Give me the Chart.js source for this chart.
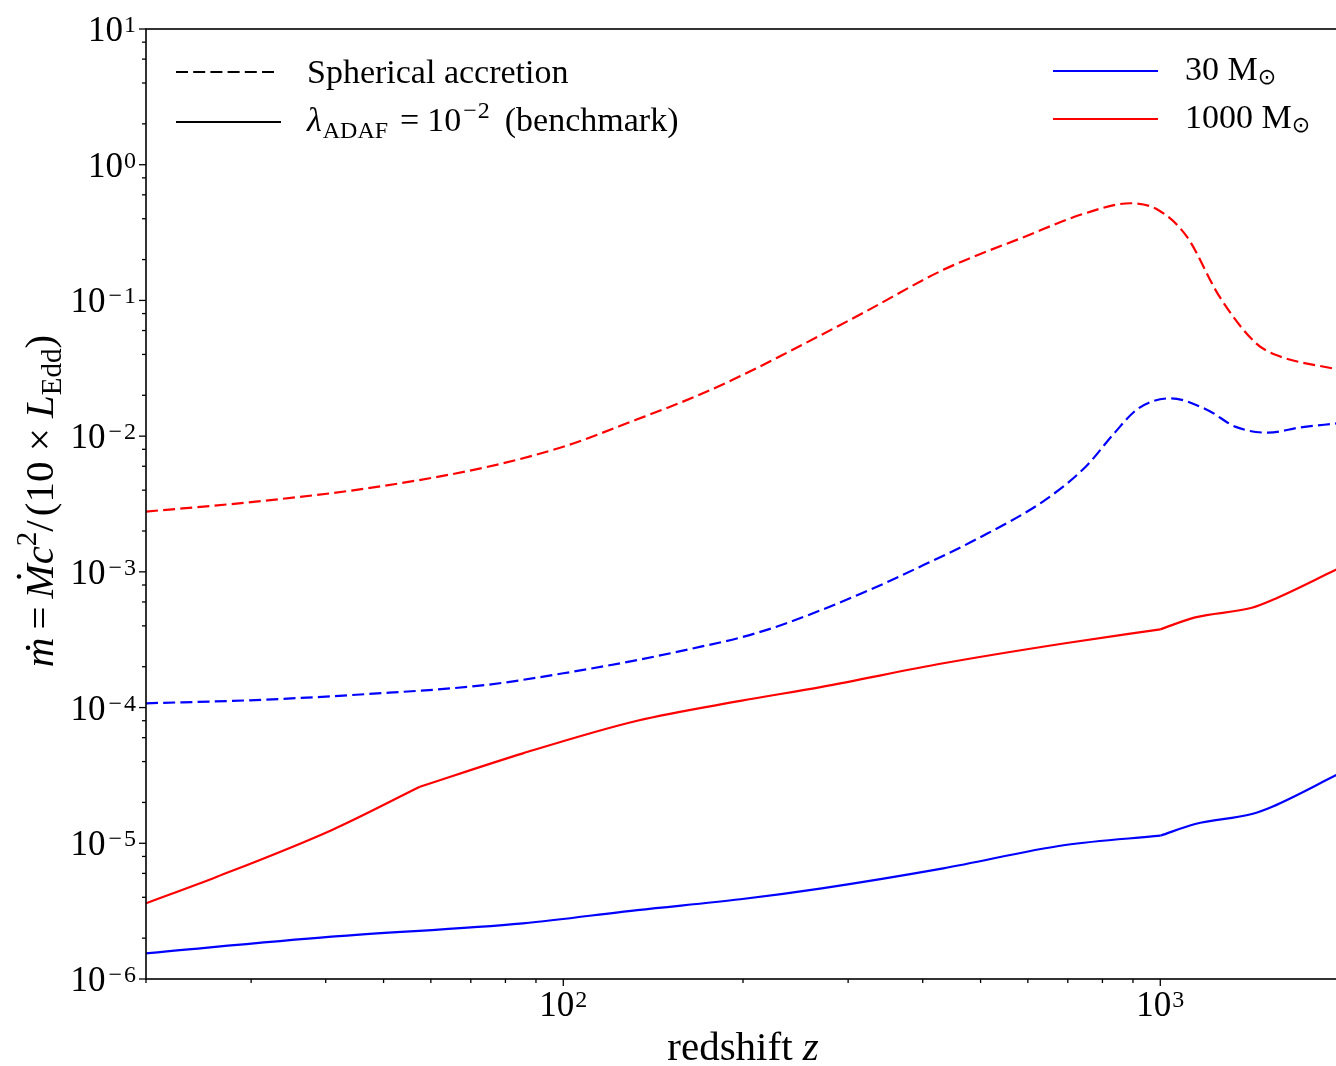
<!DOCTYPE html>
<html>
<head>
<meta charset="utf-8">
<script src="https://cdn.jsdelivr.net/npm/chart.js@4.4.1/dist/chart.umd.min.js"></script>
<style>
  html, body { margin: 0; padding: 0; background: #fff; overflow: hidden; }
  canvas { display: block; }
</style>
</head>
<body>
<canvas id="chart" width="1344" height="1066" style="width:1344px;height:1066px"></canvas>
<script>
// redshift z and accretion rate
const zSph1000 = [20, 30.5, 47, 74, 100, 133, 166, 198, 232, 317, 433, 593, 749, 891, 992, 1108, 1256, 1447, 1564, 1972];
const mSph1000 = [2.78e-3, 3.29e-3, 4.13e-3, 5.89e-3, 8.36e-3, 1.33e-2, 1.95e-2, 2.77e-2, 3.93e-2, 8.04e-2, 0.168, 0.295, 0.439, 0.52, 0.464, 0.295, 0.107, 0.0483, 0.0396, 0.0311];

const zSph30 = [20, 30.5, 47, 74, 100, 133, 170, 198, 232, 317, 407, 491, 641, 750, 837, 919, 1041, 1199, 1338, 1516, 1718, 1972];
const mSph30 = [1.075e-4, 1.136e-4, 1.258e-4, 1.466e-4, 1.789e-4, 2.24e-4, 2.81e-4, 3.28e-4, 4.06e-4, 6.98e-4, 1.156e-3, 1.73e-3, 3.38e-3, 5.95e-3, 1.05e-2, 1.60e-2, 1.90e-2, 1.56e-2, 1.17e-2, 1.06e-2, 1.16e-2, 1.24e-2];

const zAdaf1000 = [20, 26.3, 40.9, 57.5, 85.6, 133, 198, 271, 433, 693, 1000, 1144, 1424, 1540, 1972];
const mAdaf1000 = [3.61e-6, 5.67e-6, 1.25e-5, 2.61e-5, 4.60e-5, 8.0e-5, 1.12e-4, 1.42e-4, 2.12e-4, 2.98e-4, 3.77e-4, 4.62e-4, 5.44e-4, 6.2e-4, 1.04e-3];
const kinksAdaf1000 = [57.5, 1000];

const zAdaf30 = [20, 40.9, 85.6, 133, 198, 271, 433, 693, 1000, 1144, 1424, 1540, 1972];
const mAdaf30 = [1.545e-6, 2.05e-6, 2.57e-6, 3.22e-6, 3.87e-6, 4.66e-6, 6.54e-6, 9.71e-6, 1.137e-5, 1.387e-5, 1.643e-5, 1.86e-5, 3.18e-5];
const kinksAdaf30 = [1000];

// axis ticks
const yTickExp = [-6, -5, -4, -3, -2, -1, 0, 1];
const yMinorSubs = [2, 4, 6, 8];
const xTickExp = [2, 3];
const xMinorSubs = [2, 3, 4, 5, 6, 7, 8, 9];

const SERIF = '"Liberation Serif", "DejaVu Serif", serif';
const BLUE = "#0000ff";
const RED = "#ff0000";
const DASH = [12, 5.2];

const pts = (zs, ms) => zs.map((z, i) => ({ x: z, y: ms[i] }));

// cut a curve at its kinks so each piece is smoothed on its own
function splitAt(zs, ms, kinks) {
  const parts = [];
  let cur = [];
  zs.forEach((z, i) => {
    cur.push({ x: z, y: ms[i] });
    if (kinks.includes(z)) {
      parts.push(cur);
      cur = [{ x: z, y: ms[i] }];
    }
  });
  parts.push(cur);
  return parts;
}

// draw a run of text pieces (sizes / styles / offsets) starting at x, baseline y
function setFont(ctx, p) {
  ctx.font = (p.it ? "italic " : "") + p.size + "px " + (p.family || SERIF);
}
function richWidth(ctx, pieces) {
  let w = 0;
  pieces.forEach((p) => {
    setFont(ctx, p);
    w += ctx.measureText(p.t).width + (p.pad || 0) + (p.padR || 0);
  });
  return w;
}
function drawRich(ctx, pieces, x, y, align) {
  const w = richWidth(ctx, pieces);
  let cx = align === "center" ? x - w / 2 : align === "right" ? x - w : x;
  ctx.textAlign = "left";
  ctx.textBaseline = "alphabetic";
  pieces.forEach((p) => {
    setFont(ctx, p);
    cx += p.pad || 0;
    const pw = ctx.measureText(p.t).width;
    ctx.fillText(p.t, cx, y + (p.dy || 0));
    if (p.dot) {
      // dot accent above the glyph
      ctx.beginPath();
      ctx.arc(cx + pw * 0.55 + (p.it ? p.size * 0.08 : 0), y - p.dot, p.size * 0.055, 0, Math.PI * 2);
      ctx.fill();
    }
    cx += pw + (p.padR || 0);
  });
}
const powPieces = (e) =>
  e < 0
    ? [{ t: "10", size: 35 }, { t: "\u2212", size: 24, dy: -9, pad: 3, padR: 2 }, { t: String(-e), size: 24, dy: -9 }]
    : [{ t: "10", size: 35 }, { t: String(e), size: 24, dy: -9, pad: 1 }];

const axesPlugin = {
  id: "axesPlugin",
  afterDatasetsDraw(chart) {
    const ctx = chart.ctx;
    const a = chart.chartArea;
    const xs = chart.scales.x;
    const ys = chart.scales.y;
    ctx.save();
    ctx.strokeStyle = "#000";
    ctx.fillStyle = "#000";

    // frame
    ctx.lineWidth = 1.6;
    ctx.strokeRect(a.left, a.top, a.right - a.left, a.bottom - a.top);

    const seg = (x1, y1, x2, y2) => {
      ctx.beginPath();
      ctx.moveTo(x1, y1);
      ctx.lineTo(x2, y2);
      ctx.stroke();
    };

    // y ticks
    ctx.lineWidth = 1.3;
    yTickExp.forEach((e) => {
      const p = ys.getPixelForValue(Math.pow(10, e));
      seg(a.left - 7, p, a.left, p);
      if (e < yTickExp[yTickExp.length - 1]) {
        yMinorSubs.forEach((s) => {
          const q = ys.getPixelForValue(s * Math.pow(10, e));
          seg(a.left - 4, q, a.left, q);
        });
      }
    });
    // x ticks
    [1, 2, 3].forEach((e) => {
      const p = xs.getPixelForValue(Math.pow(10, e));
      if (p >= a.left - 1 && p <= a.right + 1) seg(p, a.bottom, p, a.bottom + 7);
      xMinorSubs.forEach((s) => {
        const q = xs.getPixelForValue(s * Math.pow(10, e));
        if (q >= a.left - 1 && q <= a.right + 1) seg(q, a.bottom, q, a.bottom + 4);
      });
    });

    // tick labels
    yTickExp.forEach((e) => {
      const p = ys.getPixelForValue(Math.pow(10, e));
      drawRich(ctx, powPieces(e), 136, p + 12, "right");
    });
    xTickExp.forEach((e) => {
      const p = xs.getPixelForValue(Math.pow(10, e));
      drawRich(ctx, powPieces(e), p, 1016, "center");
    });

    // x title
    drawRich(ctx, [
      { t: "redshift ", size: 41 },
      { t: "z", size: 41, it: true },
    ], (a.left + a.right) / 2, 1060, "center");

    // y title
    ctx.save();
    ctx.translate(53, 501);
    ctx.rotate(-Math.PI / 2);
    drawRich(ctx, [
      { t: "m", size: 41, it: true, dot: 25 },
      { t: "=", size: 41, pad: 8, padR: 8 },
      { t: "M", size: 41, it: true, dot: 34 },
      { t: "c", size: 41, it: true },
      { t: "2", size: 29, dy: -17 },
      { t: "/", size: 41, padR: 4 },
      { t: "(10 \u00d7 ", size: 41 },
      { t: "L", size: 41, it: true },
      { t: "Edd", size: 29, dy: 8 },
      { t: ")", size: 41 },
    ], 0, 0, "center");
    ctx.restore();

    // legend (line styles)
    ctx.lineWidth = 2.2;
    ctx.strokeStyle = "#000";
    ctx.setLineDash(DASH);
    seg(176, 72, 275, 72);
    ctx.setLineDash([]);
    seg(176, 122, 281, 122);
    drawRich(ctx, [{ t: "Spherical accretion", size: 34 }], 307, 83, "left");
    drawRich(ctx, [
      { t: "\u03bb", size: 34, it: true },
      { t: "ADAF", size: 24, dy: 7, pad: 1 },
      { t: "=", size: 34, pad: 12, padR: 8 },
      { t: "10", size: 34 },
      { t: "\u2212", size: 24, dy: -13, pad: 2, padR: 1 },
      { t: "2", size: 24, dy: -13 },
      { t: "(benchmark)", size: 34, pad: 15 },
    ], 307, 131, "left");

    // legend (masses)
    ctx.strokeStyle = BLUE;
    seg(1053, 71, 1158, 71);
    ctx.strokeStyle = RED;
    seg(1053, 119, 1158, 119);
    drawRich(ctx, [
      { t: "30 M", size: 34 },
      { t: "\u2299", size: 22, dy: 4, family: '"DejaVu Sans", sans-serif' },
    ], 1185, 80, "left");
    drawRich(ctx, [
      { t: "1000 M", size: 34 },
      { t: "\u2299", size: 22, dy: 4, family: '"DejaVu Sans", sans-serif' },
    ], 1185, 128, "left");

    ctx.restore();
  },
};

const line = (label, data, color, dashed) => ({
  label,
  data,
  borderColor: color,
  backgroundColor: color,
  borderWidth: 2.2,
  borderDash: dashed ? DASH : [],
  pointRadius: 0,
  fill: false,
  cubicInterpolationMode: "monotone",
});

const datasets = [
  line("Spherical 1000", pts(zSph1000, mSph1000), RED, true),
  line("Spherical 30", pts(zSph30, mSph30), BLUE, true),
];
splitAt(zAdaf1000, mAdaf1000, kinksAdaf1000).forEach((d) => datasets.push(line("ADAF 1000", d, RED, false)));
splitAt(zAdaf30, mAdaf30, kinksAdaf30).forEach((d) => datasets.push(line("ADAF 30", d, BLUE, false)));

new Chart(document.getElementById("chart"), {
  type: "line",
  data: { datasets },
  options: {
    responsive: false,
    devicePixelRatio: 1,
    animation: false,
    layout: { padding: { left: 146, top: 29, right: 4, bottom: 87 } },
    scales: {
      x: { type: "logarithmic", min: 20, max: 2000, display: false },
      y: { type: "logarithmic", min: 1e-6, max: 10, display: false },
    },
    plugins: {
      legend: { display: false },
      tooltip: { enabled: false },
    },
  },
  plugins: [axesPlugin],
});
</script>
</body>
</html>
